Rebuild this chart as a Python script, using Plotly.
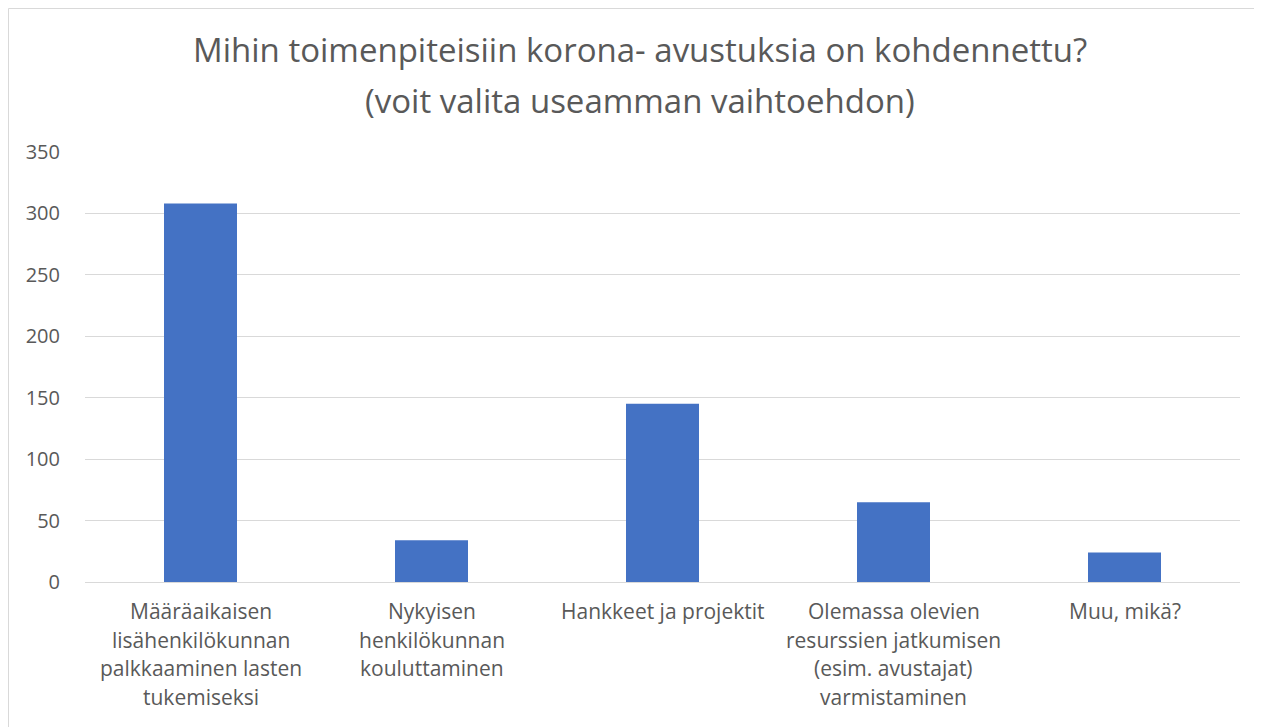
import plotly.graph_objects as go

categories = [
    "Määräaikaisen<br>lisähenkilökunnan<br>palkkaaminen lasten<br>tukemiseksi",
    "Nykyisen<br>henkilökunnan<br>kouluttaminen",
    "Hankkeet ja projektit",
    "Olemassa olevien<br>resurssien jatkumisen<br>(esim. avustajat)<br>varmistaminen",
    "Muu, mikä?",
]
values = [308, 34, 145, 65, 24]
y_ticks = [0, 50, 100, 150, 200, 250, 300, 350]

title_lines = ["Mihin toimenpiteisiin korona- avustuksia on kohdennettu?",
               "(voit valita useamman vaihtoehdon)"]

FONT = "Open Sans, sans-serif"
GRAY = "#595959"

fig = go.Figure(go.Bar(x=categories, y=values, marker=dict(color="#4472c4", line=dict(width=0))))

# page has an 8px body margin: the svg starts at (8, 8)
W, H = 1254, 719
L, R, T, B = 77, 22, 144, 145
pw = W - L - R
ph = H - T - B


def py(svg_y):
    return (H - B - svg_y) / ph


annotations = []
# title lines
for i, line in enumerate(title_lines):
    annotations.append(dict(text=line, xref="paper", yref="paper", x=(632 - L) / pw,
                            y=py(42 + i * 51), xanchor="center", yanchor="middle",
                            showarrow=False, font=dict(family=FONT, size=33, color=GRAY)))
# category labels with Excel-like line spacing
for cat in categories:
    for j, line in enumerate(cat.split("<br>")):
        annotations.append(dict(text=line, xref="x", yref="paper", x=cat,
                                y=py(603 + j * 28.7), xanchor="center", yanchor="middle",
                                showarrow=False, font=dict(family=FONT, size=21, color=GRAY)))

fig.update_layout(
    width=W, height=H,
    margin=dict(l=L, r=R, t=T, b=B),
    paper_bgcolor="white", plot_bgcolor="white",
    bargap=0.684,
    showlegend=False,
    font=dict(family=FONT, size=18, color=GRAY),
    xaxis=dict(showgrid=False, showline=True, linecolor="#d9d9d9", linewidth=1,
               ticks="", showticklabels=False),
    yaxis=dict(range=[0, 350], tickvals=y_ticks, showgrid=True, gridcolor="#d9d9d9",
               gridwidth=1, zeroline=False, showline=False, ticks="",
               tickfont=dict(size=20, color=GRAY), ticklabelstandoff=24),
    annotations=annotations,
    shapes=[dict(type="rect", xref="paper", yref="paper",
                 x0=(0.5 - L) / pw, x1=(W + 20 - L) / pw,
                 y0=py(H + 20), y1=py(0.5),
                 line=dict(color="#d9d9d9", width=1), fillcolor="rgba(0,0,0,0)", layer="below")],
)

fig.write_html("out.html")
